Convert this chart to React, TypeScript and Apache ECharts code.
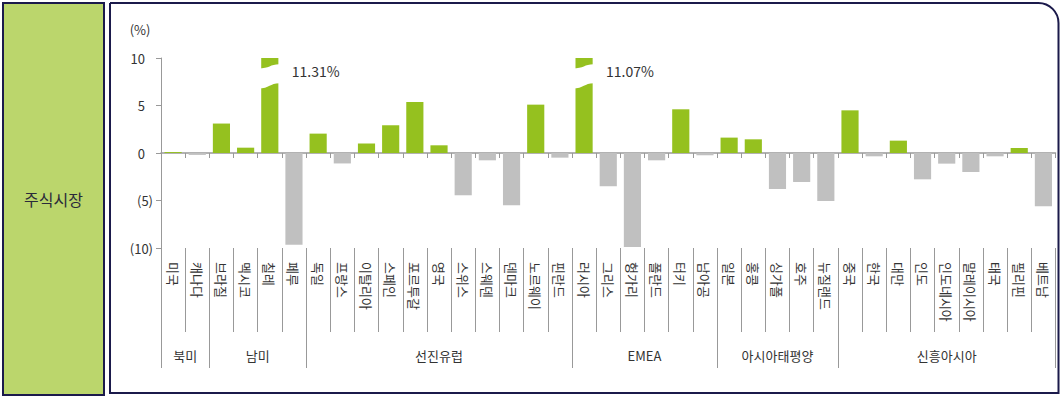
import React, { useEffect, useRef } from "react";
import * as echarts from "echarts";

const countries = [
  "미국", "캐나다",
  "브라질", "멕시코", "칠레", "페루",
  "독일", "프랑스", "이탈리아", "스페인", "포르투갈", "영국", "스위스", "스웨덴", "덴마크", "노르웨이", "핀란드",
  "러시아", "그리스", "헝가리", "폴란드", "터키", "남아공",
  "일본", "홍콩", "싱가폴", "호주", "뉴질랜드",
  "중국", "한국", "대만", "인도", "인도네시아", "말레이시아", "태국", "필리핀", "베트남",
];

const returns = [
  0.1, -0.2,
  3.1, 0.56, 11.31, -9.65,
  2.04, -1.1, 1.0, 2.92, 5.37, 0.81, -4.45, -0.77, -5.5, 5.09, -0.49,
  11.07, -3.5, -9.89, -0.77, 4.6, -0.24,
  1.62, 1.44, -3.79, -3.05, -5.05,
  4.49, -0.35, 1.3, -2.77, -1.12, -2.0, -0.35, 0.53, -5.61,
];

const groupNames = ["북미", "남미", "선진유럽", "EMEA", "아시아태평양", "신흥아시아"];
const groupSizes = [2, 4, 11, 6, 5, 9];

const yTicks = [-10, -5, 0, 5, 10];
const AXIS_MAX = 10;
const BREAK_TOP = [8.9, 9.35];
const BREAK_BOTTOM = [6.8, 7.35];

const GREEN = "#95C11F";
const GREY = "#C0C0C0";
const AXIS = "#999999";
const NAVY = "#1B1A4B";
const FONT = "'Noto Sans CJK KR', 'Noto Sans', sans-serif";

export default function App() {
  const ref = useRef<HTMLDivElement>(null);

  useEffect(() => {
    if (!ref.current) return;
    const chart = echarts.init(ref.current, undefined, { renderer: "svg" });

    const boundaries: number[] = [0];
    const centers: number[] = [];
    groupSizes.forEach((s) => {
      const start = boundaries[boundaries.length - 1];
      centers.push(start + s / 2);
      boundaries.push(start + s);
    });

    const breaks = returns
      .map((v, i) => [i, v])
      .filter((d) => d[1] > AXIS_MAX);

    chart.setOption({
      animation: false,
      textStyle: { fontFamily: FONT },
      graphic: [
        {
          type: "rect",
          shape: { x: 3, y: 3, width: 101, height: 392 },
          style: { fill: "#BBD66C", stroke: NAVY, lineWidth: 2 },
          silent: true,
        },
        {
          type: "text",
          x: 53.5,
          y: 199,
          style: {
            text: "주식시장",
            fill: "#2a2a3a",
            font: `16px ${FONT}`,
            align: "center",
            verticalAlign: "middle",
          },
        },
        {
          type: "rect",
          shape: { x: 110, y: 3, width: 948.5, height: 390, r: [0, 20, 0, 0] },
          style: { fill: "none", stroke: NAVY, lineWidth: 2 },
          silent: true,
        },
        {
          type: "text",
          x: 140,
          y: 29,
          style: {
            text: "(%)",
            fill: "#333",
            font: `13px ${FONT}`,
            align: "center",
            verticalAlign: "middle",
          },
        },
      ],
      grid: { left: 161, top: 58, width: 894.5, height: 190, containLabel: false },
      yAxis: {
        type: "value",
        min: yTicks[0],
        max: yTicks[yTicks.length - 1],
        interval: 5,
        axisLine: { show: true, lineStyle: { color: AXIS, width: 1 } },
        axisTick: { show: true, length: 5, lineStyle: { color: AXIS } },
        splitLine: { show: false },
        axisLabel: {
          margin: 8,
          color: "#333",
          fontSize: 13,
          fontFamily: FONT,
          formatter: (v: number) => (v < 0 ? `(${Math.abs(v)})` : `{p|${v}}`),
          rich: { p: { padding: [0, 8, 0, 0], fontSize: 13, color: "#333", fontFamily: FONT } },
        },
      },
      xAxis: [
        {
          type: "category",
          data: countries,
          axisLine: { show: true, onZero: true, lineStyle: { color: AXIS, width: 1.5 } },
          axisTick: { show: true, interval: 0, length: 5, lineStyle: { color: AXIS } },
          axisLabel: { show: false },
          splitLine: { show: false },
        },
        {
          type: "category",
          data: countries,
          position: "bottom",
          axisLine: { show: false, onZero: false },
          axisTick: { show: true, interval: 0, length: 84, lineStyle: { color: AXIS } },
          axisLabel: {
            interval: 0,
            rotate: -90,
            margin: 14,
            color: "#333",
            fontSize: 13,
            fontFamily: FONT,
          },
          splitLine: { show: false },
        },
        {
          type: "value",
          min: 0,
          max: countries.length,
          position: "bottom",
          axisLine: { show: false, onZero: false },
          axisTick: { show: true, length: 120, customValues: boundaries, lineStyle: { color: AXIS } },
          axisLabel: {
            customValues: centers,
            margin: 101,
            color: "#333",
            fontSize: 13,
            fontFamily: FONT,
            formatter: (v: number) => {
              const idx = centers.findIndex((c) => Math.abs(c - v) < 1e-6);
              return idx >= 0 ? groupNames[idx] : "";
            },
          },
          splitLine: { show: false },
        },
      ],
      series: [
        {
          type: "bar",
          xAxisIndex: 0,
          barCategoryGap: "29%",
          data: returns.map((v) => ({
            value: Math.min(v, AXIS_MAX),
            itemStyle: { color: v >= 0 ? GREEN : GREY },
          })),
        },
        {
          type: "custom",
          xAxisIndex: 0,
          clip: false,
          z: 5,
          data: breaks,
          renderItem: (params: any, api: any) => {
            const i = api.value(0);
            const v = api.value(1);
            const cx = api.coord([i, 0])[0];
            const w = api.size([1, 0])[0] * 0.71;
            const xl = cx - w / 2 - 3;
            const xr = cx + w / 2 + 1;
            const xm = cx;
            const yTL = api.coord([i, BREAK_TOP[0]])[1];
            const yTR = api.coord([i, BREAK_TOP[1]])[1];
            const yBL = api.coord([i, BREAK_BOTTOM[0]])[1];
            const yBR = api.coord([i, BREAK_BOTTOM[1]])[1];
            const d =
              `M${xl},${yTL} C${xm},${yTL} ${xm},${yTR} ${xr},${yTR} ` +
              `L${xr},${yBR} C${xm},${yBR} ${xm},${yBL} ${xl},${yBL} Z`;
            const ty = api.coord([i, 8.6])[1];
            return {
              type: "group",
              children: [
                {
                  type: "path",
                  shape: { pathData: d },
                  style: { fill: "#ffffff", stroke: "none" },
                },
                {
                  type: "text",
                  x: cx + 22,
                  y: ty,
                  style: {
                    text: `${v.toFixed(2)}%`,
                    fill: "#333",
                    fontSize: 14,
                    fontFamily: FONT,
                    align: "left",
                    verticalAlign: "middle",
                  },
                },
              ],
            };
          },
        },
      ],
    });

    return () => chart.dispose();
  }, []);

  return (
    <div
      ref={ref}
      style={{ position: "fixed", left: 0, top: 0, width: 1062, height: 397, background: "#fff" }}
    />
  );
}
